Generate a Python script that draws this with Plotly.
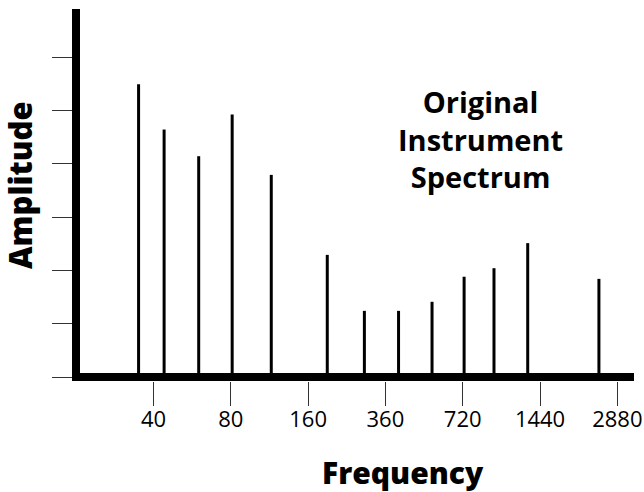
import math
import plotly.graph_objects as go

# ---- data ----
frequencies = [35, 44, 60, 81, 115, 190, 265, 360, 486, 648, 847, 1146, 2170]
amplitudes = [5.49, 4.64, 4.14, 4.92, 3.79, 2.29, 1.24, 1.24, 1.41, 1.88, 2.04, 2.51, 1.84]
tick_positions = [40, 80, 160, 320, 640, 1280, 2560]
tick_labels = ["40", "80", "160", "360", "720", "1440", "2880"]
amp_ticks = [0, 1, 2, 3, 4, 5, 6]

# stems: vertical line segments from 0 up to each amplitude
xs, ys = [], []
for f, a in zip(frequencies, amplitudes):
    xs += [f, f, None]
    ys += [0, a, None]

fig = go.Figure()
fig.add_trace(go.Scatter(x=xs, y=ys, mode="lines",
                         line=dict(color="black", width=3),
                         hoverinfo="skip", showlegend=False))

W, H = 644, 492
L, R, T, B = 80, 10, 9, 111

fig.update_layout(
    width=W, height=H,
    margin=dict(l=L, r=R, t=T, b=B, pad=0, autoexpand=False),
    paper_bgcolor="white", plot_bgcolor="white",
    font=dict(family="Open Sans", color="black"),
    showlegend=False,
)
fig.update_xaxes(
    type="log", range=[math.log10(20.7), math.log10(2972)],
    tickvals=tick_positions, ticktext=tick_labels,
    ticks="outside", ticklen=24, tickwidth=1, tickcolor="#333",
    ticklabelstandoff=-5, automargin=False,
    tickfont=dict(family="Open Sans", size=22, color="black"),
    showgrid=False, zeroline=False, showline=False,
)
fig.update_yaxes(
    range=[-0.075, 6.9], tickvals=amp_ticks, showticklabels=False,
    ticks="outside", ticklen=20, tickwidth=1, tickcolor="#333",
    automargin=False,
    showgrid=False, showline=True, linewidth=8, linecolor="black",
    zeroline=True, zerolinewidth=8, zerolinecolor="black",
)

pw = W - L - R
ph = H - T - B
def px(x):
    return (x - L) / pw
def py(y):
    return (H - B - y) / ph

fig.add_annotation(text="Original<br>Instrument<br>Spectrum", x=px(480), y=py(139),
                   xref="paper", yref="paper", showarrow=False,
                   xanchor="center", yanchor="middle",
                   font=dict(family="Open Sans", size=29, weight=700, color="black"))
fig.add_annotation(text="Frequency", x=px(403), y=py(472),
                   xref="paper", yref="paper", showarrow=False,
                   xanchor="center", yanchor="middle",
                   font=dict(family="Open Sans", size=30, weight=800, color="black"))
fig.add_annotation(text="Amplitude", x=px(20), y=py(185), textangle=-90,
                   xref="paper", yref="paper", showarrow=False,
                   xanchor="center", yanchor="middle",
                   font=dict(family="Open Sans", size=31, weight=800, color="black"))

fig.write_html("out.html", config={"displayModeBar": False},
               post_script="document.body.style.margin='0';")
